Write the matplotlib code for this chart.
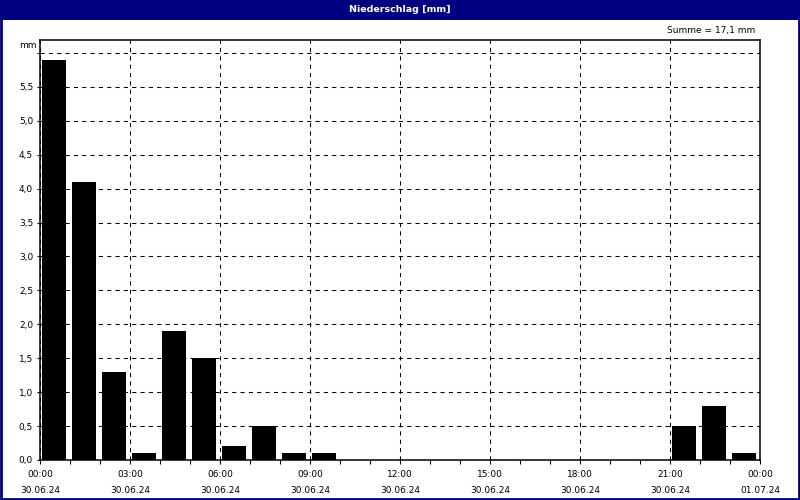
import matplotlib.pyplot as plt
from matplotlib.patches import Rectangle

# stündliche Niederschlagswerte 30.06.24 00:00 - 01.07.24 00:00
hours = list(range(24))
rain_mm = [5.9, 4.1, 1.3, 0.1, 1.9, 1.5, 0.2, 0.5, 0.1, 0.1,
           0.0, 0.0, 0.0, 0.0, 0.0, 0.0, 0.0, 0.0, 0.0, 0.0,
           0.0, 0.5, 0.8, 0.1]
tick_hours = [0, 3, 6, 9, 12, 15, 18, 21, 24]
tick_labels = ['00:00\n30.06.24', '03:00\n30.06.24', '06:00\n30.06.24',
               '09:00\n30.06.24', '12:00\n30.06.24', '15:00\n30.06.24',
               '18:00\n30.06.24', '21:00\n30.06.24', '00:00\n01.07.24']
y_ticks = [0.0, 0.5, 1.0, 1.5, 2.0, 2.5, 3.0, 3.5, 4.0, 4.5, 5.0, 5.5]

navy = '#000080'
plt.rcParams['font.family'] = ['DejaVu Sans']

fig = plt.figure(figsize=(8, 5), dpi=100)
fig.patch.set_facecolor('white')

# Titelleiste + Rahmen
fig.patches.append(Rectangle((0, 1 - 20 / 500), 1, 20 / 500, transform=fig.transFigure,
                             facecolor=navy, edgecolor='none', zorder=0))
fig.patches.append(Rectangle((0.001, 0.002), 0.998, 0.996, transform=fig.transFigure,
                             facecolor='none', edgecolor=navy, linewidth=2, zorder=0))
fig.text(0.5, 1 - 10 / 500, 'Niederschlag [mm]', color='white', fontsize=6.8,
         fontweight='bold', ha='center', va='center')

ax = fig.add_axes([40 / 800, 40 / 500, 720 / 800, 420 / 500])
ax.bar([h + 0.07 for h in hours], rain_mm, width=0.8, align='edge',
       color='black', zorder=3)

ax.set_xlim(0, 24)
ax.set_ylim(0, 6.19)
ax.set_xticks(tick_hours)
ax.set_xticklabels(tick_labels, fontsize=6.5, linespacing=2.0)
ax.set_xticks(hours, minor=True)
ax.set_yticks(y_ticks + [6.0])
ax.set_yticklabels([f'{v:.1f}'.replace('.', ',') for v in y_ticks] + [''], fontsize=6.5)

ax.tick_params(axis='both', direction='out', length=3, width=0.8, pad=4, color='black')
ax.tick_params(axis='x', which='minor', direction='out', length=3, width=0.8)
ax.tick_params(axis='y', pad=3, length=2)
ax.grid(True, which='major', color='black', linestyle=(0, (4, 4)), linewidth=0.75, zorder=1)
for s in ax.spines.values():
    s.set_linewidth(1.1)
    s.set_color('black')

fig.text(37 / 800, 1 - 45 / 500, 'mm', fontsize=6.5, ha='right', va='center')
fig.text(755 / 800, 1 - 30 / 500, 'Summe = 17,1 mm', fontsize=6.5, ha='right', va='center')

fig.savefig('out.png', dpi=100)
